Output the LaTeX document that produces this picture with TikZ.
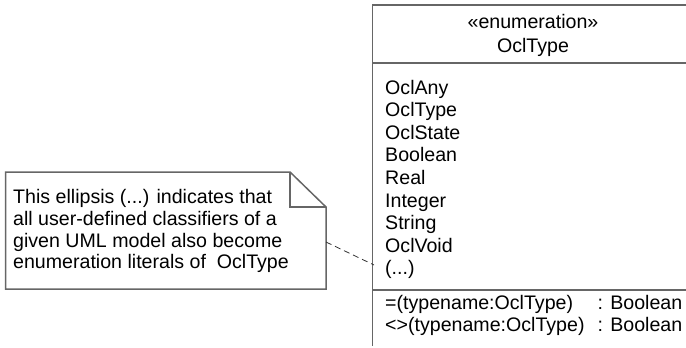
\documentclass[tikz,border=0pt]{standalone}
\usepackage{fontspec}
\setmainfont{Liberation Sans}
\definecolor{linegray}{rgb}{0.40,0.40,0.40}
\begin{document}
\begin{tikzpicture}[x=1pt,y=-1pt]
\tikzset{
  umlline/.style={draw=linegray, line width=1.5pt},
  txt/.style={font=\fontsize{19.6}{22}\selectfont, inner sep=0pt, anchor=base west, text=black},
  ctxt/.style={txt, anchor=base},
  notelink/.style={draw=black!80, line width=0.8pt, dash pattern=on 6pt off 4pt},
}
\useasboundingbox (0,0) rectangle (686,348);
% class box (cut off at right and bottom)
\coordinate (ctl) at (372.5,5);
\coordinate (ctr) at (687,5);
\coordinate (cbl) at (372.5,346);
\coordinate (s1l) at (372.5,63);
\coordinate (s1r) at (687,63);
\coordinate (s2l) at (372.5,290);
\coordinate (s2r) at (687,290);
\draw[umlline] (ctr) -- (ctl) -- (cbl);
\draw[umlline] (s1l) -- (s1r);
\draw[umlline] (s2l) -- (s2r);
\node[ctxt] (stereo) at (533,28.5) {«enumeration»};
\node[ctxt] (cname) at (533,52) {OclType};
\foreach \t [count=\i from 0] in {OclAny,OclType,OclState,Boolean,Real,Integer,String,OclVoid}{
  \node[txt] (lit\i) at (385,94+22.6*\i) {\t};
}
\node[txt] (lit8) at (385,94+22.6*8) {(...)};
\node[txt] (op1) at (385,309) {=(typename:OclType)};
\node[txt, anchor=base east] (op1t) at (682.5,309) {: Boolean};
\node[txt] (op2) at (385,331) {<>(typename:OclType)};
\node[txt, anchor=base east] (op2t) at (682.5,331) {: Boolean};
% note
\coordinate (ntl) at (5.5,172);
\coordinate (nfa) at (290,172);
\coordinate (nfb) at (326,207);
\coordinate (nfc) at (290,207);
\coordinate (nbr) at (326,289);
\coordinate (nbl) at (5.5,289);
\draw[umlline, line join=miter] (ntl) -- (nfa) -- (nfb) -- (nbr) -- (nbl) -- cycle;
\draw[umlline] (nfa) -- (nfc) -- (nfb);
\node[txt] (n1) at (13,203) {This ellipsis (...) indicates that};
\node[txt] (n2) at (13,225) {all user-defined classifiers of a};
\node[txt] (n3) at (13,247) {given UML model also become};
\node[txt] (n4) at (13,268.5) {enumeration literals of \ OclType};
% connector
\coordinate (noteR) at (326,242);
\coordinate (clsL) at (374,265);
\draw[notelink] (noteR) -- (clsL);
\end{tikzpicture}
\end{document}
